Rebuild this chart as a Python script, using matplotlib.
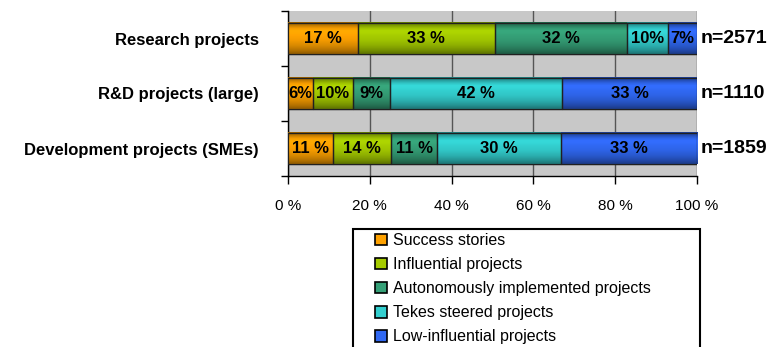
import numpy as np
import matplotlib
matplotlib.use("Agg")
import matplotlib.pyplot as plt
from matplotlib.patches import Patch, Rectangle
from matplotlib.colors import to_rgb

plt.rcParams['font.family'] = ['Liberation Sans', 'DejaVu Sans']

categories = ["Research projects", "R&D projects (large)", "Development projects (SMEs)"]
sample_sizes = [2571, 1110, 1859]
series_names = ["Success stories", "Influential projects",
                "Autonomously implemented projects", "Tekes steered projects",
                "Low-influential projects"]
success = [17, 6, 11]
influential = [33, 10, 14]
autonomous = [32, 9, 11]
tekes = [10, 42, 30]
low_influential = [7, 33, 33]
colors = ["#FFA200", "#A6CC00", "#35A077", "#33CFCF", "#3068F2"]

series = [success, influential, autonomous, tekes, low_influential]
totals = np.sum(series, axis=0)

fig = plt.figure(figsize=(7.7, 3.47), dpi=100)
ax = fig.add_axes([288 / 770, 1 - 176 / 347, 409 / 770, 165 / 347])
ax.set_facecolor("#C8C8C8")

y = np.arange(len(categories))
bar_h = 0.57

# vertical shading profile for the bars (dark edges, bright band near the top)
prof = np.array([0.62, 0.78, 0.95, 1.05, 1.04, 1.0, 0.98, 0.95, 0.9, 0.85, 0.78, 0.7, 0.6])

left = np.zeros(len(categories))
for vals, name, col in zip(series, series_names, colors):
    share = np.array(vals) / totals * 100
    bars = ax.barh(y, share, left=left, height=bar_h, color=col,
                   edgecolor="#202020", linewidth=0.9, label=name, zorder=3)
    base = np.array(to_rgb(col))
    grad = np.clip(prof[:, None] * base[None, :], 0, 1)[:, None, :]
    for rect, v in zip(bars, vals):
        x0, y0 = rect.get_x(), rect.get_y()
        w, h = rect.get_width(), rect.get_height()
        ax.imshow(grad, extent=[x0, x0 + w, y0 + h, y0], aspect="auto",
                  interpolation="bilinear", zorder=3.5)
        ax.add_patch(Rectangle((x0, y0), w, h, fill=False,
                               edgecolor="#202020", linewidth=0.9, zorder=4))
        txt = f"{v}%" if v <= 10 else f"{v} %"
        ax.text(x0 + w / 2, y0 + h / 2, txt, ha="center", va="center",
                fontsize=12, fontweight="bold", color="black", zorder=5)
    left += share

for yi, n in zip(y, sample_sizes):
    ax.text(100.8, yi, f"n={n}", ha="left", va="center", fontsize=14,
            fontweight="bold", clip_on=False)

ax.set_xlim(0, 100)
ax.set_ylim(2.5, -0.5)
ax.set_xticks(np.arange(0, 101, 20))
ax.set_xticklabels([f"{t} %" for t in range(0, 101, 20)], fontsize=11)
ax.xaxis.grid(True, color="#555555", linewidth=1.0, zorder=1)
ax.set_axisbelow(True)

ax.set_yticks(y)
ax.set_yticklabels(categories, fontsize=12, fontweight="bold")
ax.set_yticks([-0.5, 0.5, 1.5, 2.5], minor=True)
ax.tick_params(axis="y", which="major", length=0, pad=21)
ax.tick_params(axis="y", which="minor", length=5, width=1, direction="out")
ax.tick_params(axis="x", length=6, width=1, pad=10.5)

for s in ["top", "right"]:
    ax.spines[s].set_visible(False)
ax.spines["left"].set_linewidth(1.0)
ax.spines["bottom"].set_linewidth(1.0)

# legend box runs off the bottom edge of the figure
fig.patches.append(Rectangle((353 / 770, -0.2), 347 / 770, 0.2 + (347 - 229) / 347,
                             transform=fig.transFigure, fill=False,
                             edgecolor="black", linewidth=1.5))
handles = [Patch(facecolor=c, edgecolor="black", linewidth=1.2) for c in colors]
leg = fig.legend(handles, series_names, loc="upper left",
                 bbox_to_anchor=(375 / 770, 1 - 233 / 347),
                 fontsize=11.5, frameon=False,
                 handlelength=0.75, handleheight=0.75,
                 handletextpad=0.35, labelspacing=0.57, borderpad=0,
                 borderaxespad=0)

fig.savefig("out.png", dpi=100)
